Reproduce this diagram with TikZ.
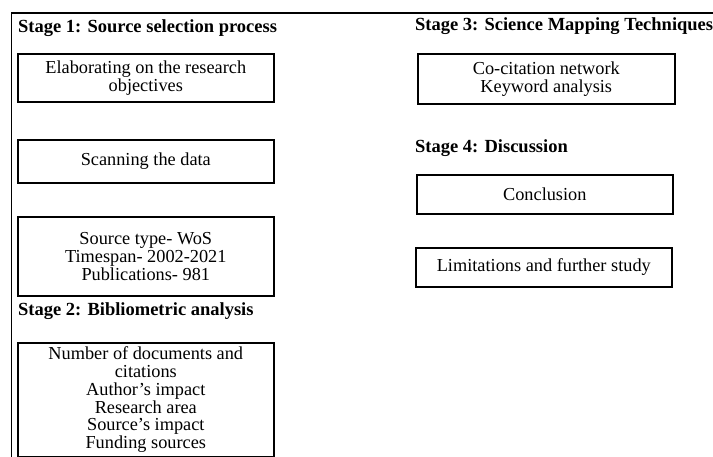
\documentclass[tikz,border=0pt]{standalone}
\usepackage{fontspec}
\setmainfont{Liberation Serif}
\usetikzlibrary{positioning}
\tikzset{
  box/.style={draw=black, line width=1.6pt, align=center, inner sep=1pt, anchor=north west,
    font=\fontsize{18.3}{17.8}\selectfont},
  stagetitle/.style={anchor=west, inner sep=0pt, font=\fontsize{18.5}{20}\selectfont\bfseries},
  frameline/.style={draw=black, line width=1.2pt},
}
\begin{document}
\begin{tikzpicture}[x=1pt, y=-1pt]
  \useasboundingbox (0,0) rectangle (713,457);
  % outer frame, only its top and left edges show
  \coordinate (frameBL) at (11.5,462);
  \coordinate (frameTL) at (11.5,13);
  \coordinate (frameTR) at (716,13);
  \draw[frameline] (frameBL) -- (frameTL) -- (frameTR);
  % left column
  \node[stagetitle] (stageOne) at (18,28) {Stage 1: Source selection process};
  \node[box, minimum width=256pt, minimum height=48pt] (objectives) at (17,53)
    {Elaborating on the research\\objectives};
  \node[box, minimum width=256pt, minimum height=43pt] (scanning) at (17,139)
    {Scanning the data};
  \node[box, minimum width=256pt, minimum height=79pt] (source) at (17,216)
    {Source type- WoS\\Timespan- 2002-2021\\Publications- 981};
  \node[stagetitle] (stageTwo) at (18,311) {Stage 2: Bibliometric analysis};
  \node[box, minimum width=256pt, minimum height=114pt] (biblio) at (17,342)
    {Number of documents and\\citations\\Author's impact\\Research area\\Source's impact\\Funding sources};
  % right column
  \node[stagetitle] (stageThree) at (415,26) {Stage 3: Science Mapping Techniques};
  \node[box, minimum width=257pt, minimum height=50pt] (mapping) at (417,53)
    {Co-citation network\\Keyword analysis};
  \node[stagetitle] (stageFour) at (415,148) {Stage 4: Discussion};
  \node[box, minimum width=256pt, minimum height=39pt] (conclusion) at (416,174)
    {Conclusion};
  \node[box, minimum width=256pt, minimum height=39pt] (limits) at (415,247)
    {Limitations and further study};
\end{tikzpicture}
\end{document}
